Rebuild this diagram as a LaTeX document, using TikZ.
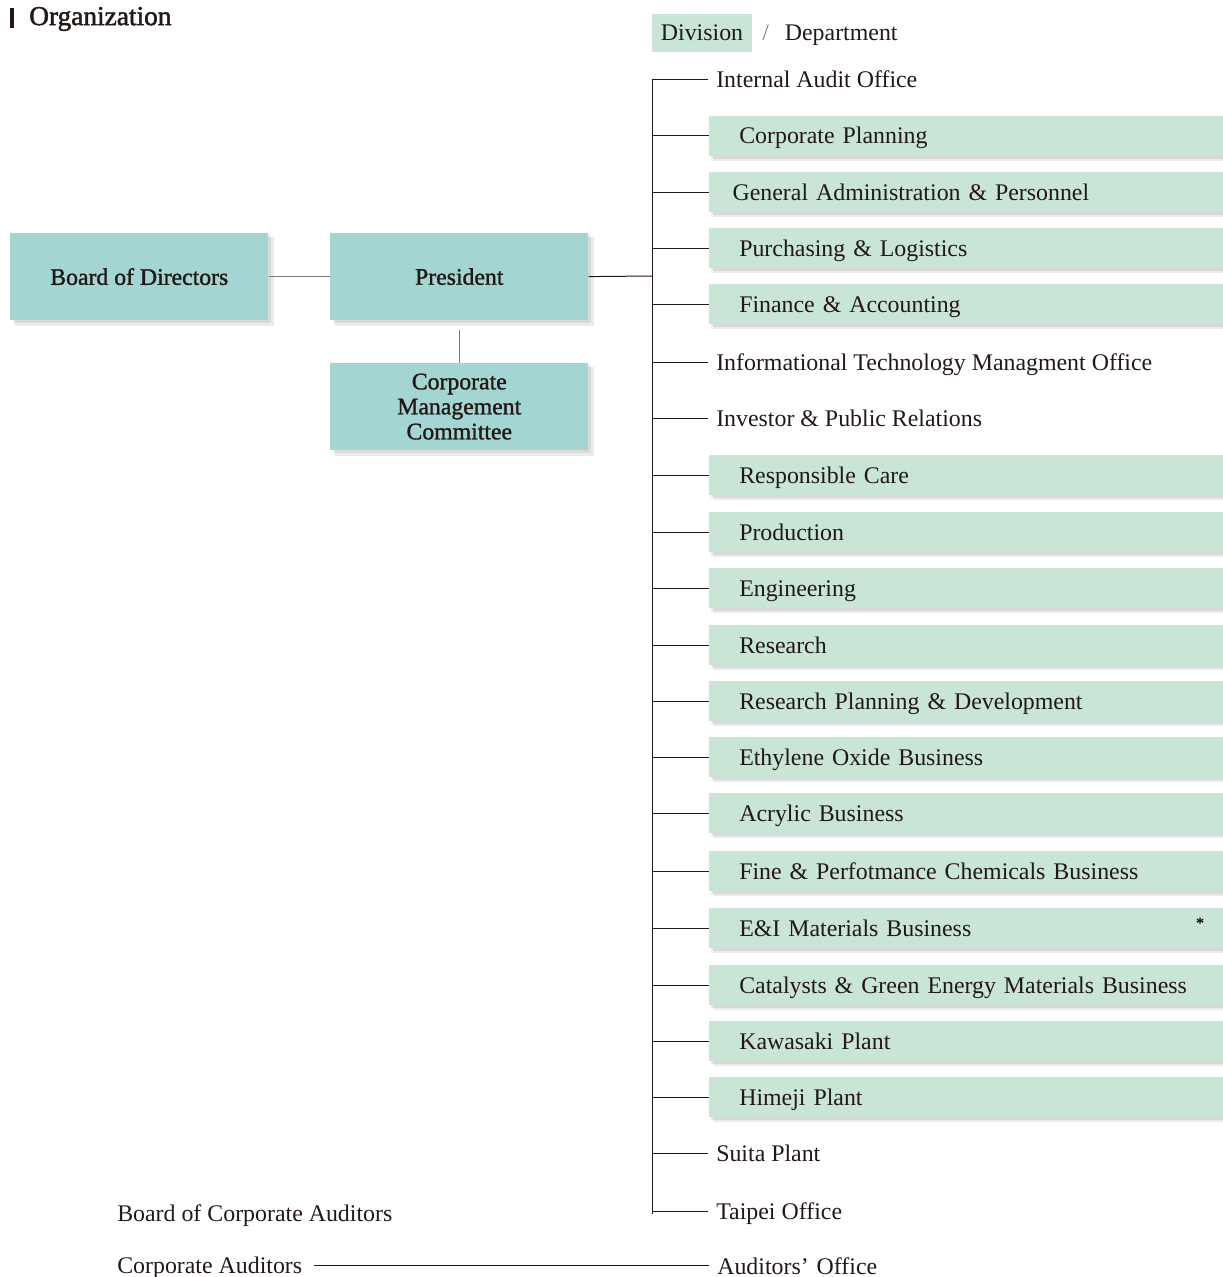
\documentclass[tikz,border=0pt]{standalone}
\usepackage{fontspec}
\setmainfont{Liberation Serif}
\newfontfamily\semib[FakeBold=1.3]{Liberation Serif}
\newfontfamily\titlef[FakeBold=1.8]{Liberation Serif}
\usetikzlibrary{calc}
\definecolor{teal1}{HTML}{A3D6D2}
\definecolor{mint}{HTML}{C8E5D6}
\definecolor{ink}{HTML}{231815}
\definecolor{lgray}{HTML}{7A7676}
\begin{document}
\begin{tikzpicture}[x=0.75pt,y=-0.75pt,
  txt/.style={font=\fontsize{17.9}{20}\selectfont, text=ink, text height=12pt, text depth=0pt},
  bigbox/.style={fill=teal1, minimum width=193.5pt, minimum height=65pt, inner sep=0pt, align=center,
     font=\fontsize{17.8}{18.75}\selectfont\semib, text=ink},
  deptbox/.style={txt, fill=mint, anchor=west, minimum height=30pt, text width=340pt, inner xsep=22.5pt, align=left},
  plain/.style={txt, anchor=west, inner xsep=6pt, inner ysep=0pt},
  conn/.style={draw=ink, line width=0.75pt},
  lconn/.style={draw=lgray, line width=1pt},
  shade/.style={fill=black, opacity=0.08}]
\useasboundingbox (0,0) rectangle (1223,1277);
% title
\fill[ink] (10,8) rectangle (14,28);
\node[anchor=west, font=\fontsize{20.5}{22}\selectfont\titlef, text=ink, inner sep=0pt] (title) at (29,19) {Organization};
% legend
\node[txt, fill=mint, minimum width=75pt, minimum height=28.5pt, inner sep=0pt] (leg) at (702,33) {Division};
\node[txt, anchor=west, inner sep=0pt] (legd) at (762,33) {\textcolor{gray}{/}\hspace{12pt}Department};
% left boxes with shadows
\foreach \x/\y in {10/233,330/233,330/363}{
  \fill[shade] (\x+5,\y+4) rectangle (\x+264,\y+93);
  \fill[shade] (\x+3,\y+2) rectangle (\x+261,\y+90);
}
\node[bigbox, anchor=north west] (bod) at (10,233) {Board of Directors};
\node[bigbox, anchor=north west] (pres) at (330,233) {President};
\node[bigbox, anchor=north west] (cmc) at (330,363) {Corporate\\Management\\Committee};
\draw[lconn] (bod.east) -- (pres.east -| pres.west);
\draw[lconn] ([yshift=-7.5pt]pres.south) -- (cmc.north);
% trunk
\coordinate (ttop) at (652,80);
\coordinate (tbot) at (652,1214);
\coordinate (tmid) at (652,276);
\draw[conn] (ttop) -- (tbot);
\draw[conn] (pres.east) -- (tmid);
% departments
\foreach \i/\y/\t/\k in {
 1/80/Internal Audit Office/p,
 2/136/Corporate Planning/b,
 3/192/\hspace{-5pt}General Administration \& Personnel/b,
 4/248/Purchasing \& Logistics/b,
 5/304/Finance \& Accounting/b,
 6/362/Informational Technology Managment Office/p,
 7/418/Investor \& Public Relations/p,
 8/475/Responsible Care/b,
 9/532/Production/b,
 10/588/Engineering/b,
 11/645/Research/b,
 12/701/Research Planning \& Development/b,
 13/757/Ethylene Oxide Business/b,
 14/813/Acrylic Business/b,
 15/871/Fine \& Perfotmance Chemicals Business/b,
 16/928/E\&I Materials Business/b,
 17/985/Catalysts \& Green Energy Materials Business/b,
 18/1041/Kawasaki Plant/b,
 19/1097/Himeji Plant/b,
 20/1153/Suita Plant/p,
 21/1211/Taipei Office/p}{
  \if\k b
    \fill[shade] (713,\y-18) rectangle (1223,\y+25);
    \fill[shade] (711,\y-19) rectangle (1223,\y+23);
    \node[deptbox] (d\i) at (709,\y) {\t};
  \else
    \node[plain] (d\i) at (708,\y) {\t};
  \fi
  \draw[conn] (d\i.west) -- (d\i.west -| ttop);
}
\node[font=\fontsize{12}{12}\selectfont\semib, text=ink, inner sep=0pt] (ast) at (1200,923) {*};
% auditors
\node[txt, anchor=west, inner sep=0pt] (bca) at (117,1213) {Board of Corporate Auditors};
\node[txt, anchor=west, inner sep=0pt] (ca) at (117,1265) {Corporate Auditors};
\node[plain] (ao) at (709,1266) {Auditors’\,\,Office};
\draw[conn] ([xshift=9pt]ca.east) -- (ao.west |- ca.east);
\end{tikzpicture}
\end{document}
